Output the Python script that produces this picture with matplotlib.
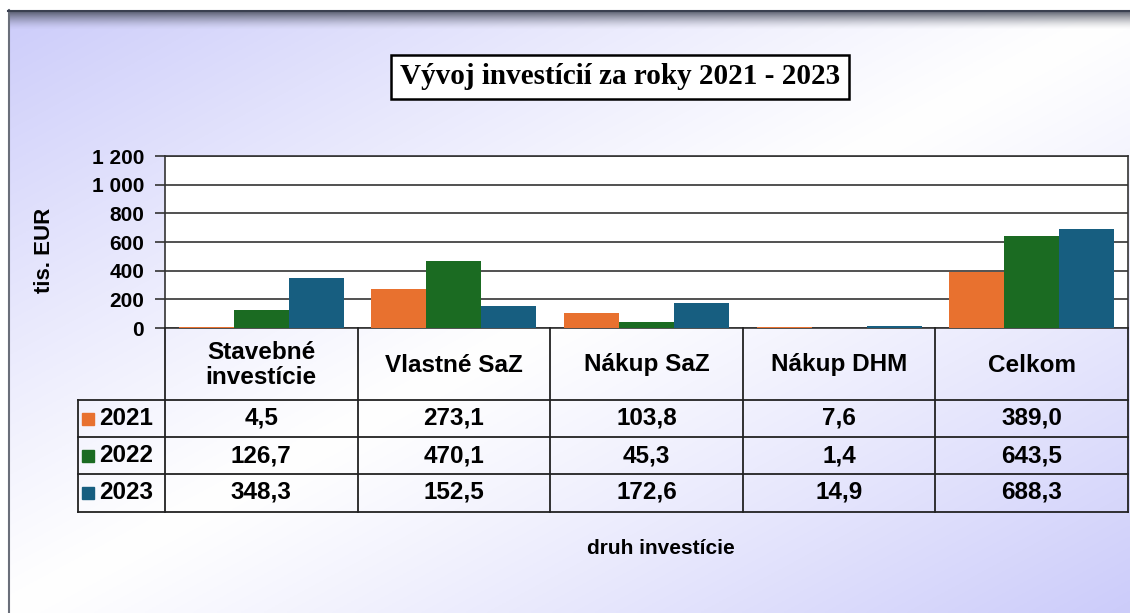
import matplotlib.pyplot as plt
import numpy as np

# data
kategorie = ['Stavebné\ninvestície', 'Vlastné SaZ', 'Nákup SaZ', 'Nákup DHM', 'Celkom']
roky = ['2021', '2022', '2023']
h2021 = [4.5, 273.1, 103.8, 7.6, 389.0]
h2022 = [126.7, 470.1, 45.3, 1.4, 643.5]
h2023 = [348.3, 152.5, 172.6, 14.9, 688.3]
hodnoty = [h2021, h2022, h2023]
farby = ['#E8712F', '#1B6B22', '#175E80']
yticks = [0, 200, 400, 600, 800, 1000, 1200]
ytick_labels = ['0', '200', '400', '600', '800', '1 000', '1 200']

W, H = 1130, 613
plt.rcParams['font.family'] = ['Liberation Sans', 'DejaVu Sans']

fig = plt.figure(figsize=(W / 100, H / 100), dpi=100)
fig.patch.set_facecolor('white')

# pozadie - diagonalny prechod
bg = fig.add_axes([0, 0, 1, 1])
bg.set_xlim(0, W)
bg.set_ylim(H, 0)
bg.set_axis_off()
xx, yy = np.meshgrid(np.linspace(0, 1, 500), np.linspace(0, 1, 300))
t = np.abs((xx + yy) / 2 - 0.5) * 2
t = t ** 1.1
lav = np.array([0.80, 0.80, 0.98])
wh = np.array([1.0, 1.0, 1.0])
img = wh[None, None, :] * (1 - t[..., None]) + lav[None, None, :] * t[..., None]
bg.imshow(img, extent=(8, W, H, 10), aspect='auto', zorder=0)
# tmavy pas hore
yb = np.linspace(0, 1, 40)
band = np.zeros((40, 10, 4))
band[..., 0] = 0.28
band[..., 1] = 0.30
band[..., 2] = 0.36
band[..., 3] = ((1 - yb) ** 1.5)[:, None] * 0.95
bg.imshow(band, extent=(8, W, 30, 10), aspect='auto', zorder=1)
bg.plot([8.5, 8.5], [10, H], color='#6a6f7a', lw=1.5, zorder=2)
bg.plot([8, W], [10.5, 10.5], color='#3a4050', lw=1.5, zorder=2)

# graf
ax = fig.add_axes([165 / W, 1 - 328 / H, 963 / W, 172 / H])
ax.set_facecolor('white')
x = np.arange(len(kategorie))
sirka = 0.2857
for i in range(3):
    ax.bar(x + (i - 1) * sirka, hodnoty[i], sirka, color=farby[i], zorder=3)
ax.set_xlim(-0.5, 4.5)
ax.set_ylim(0, 1200)
ax.set_yticks(yticks)
ax.set_yticklabels(ytick_labels, fontsize=15, fontweight='bold')
ax.set_xticks([])
ax.grid(axis='y', color='#333333', lw=1.2, zorder=1)
for s in ax.spines.values():
    s.set_color('#333333')
    s.set_linewidth(1.2)
ax.tick_params(axis='y', length=7, width=1.2, color='#333333', pad=8)

# tabulka pod grafom
tab = fig.add_axes([78 / W, 1 - 512 / H, 1050 / W, 184 / H])
xl = -0.5 - 87 / 192.6
tab.set_xlim(xl, 4.5)
tab.set_ylim(184, 0)
tab.set_axis_off()
lc = '#222222'
for yy_ in [72, 109, 146, 184]:
    tab.plot([xl, 4.5], [yy_, yy_], color=lc, lw=1.3, clip_on=False)
for i in range(6):
    tab.plot([i - 0.5, i - 0.5], [0, 184], color=lc, lw=1.3, clip_on=False)
tab.plot([xl, xl], [72, 184], color=lc, lw=1.3, clip_on=False)

for i, k in enumerate(kategorie):
    tab.text(i, 37, k, ha='center', va='center', fontsize=17.5, fontweight='bold',
             linespacing=1.1)
for r in range(3):
    yc = 72 + 18.5 + 37 * r
    tab.plot(xl + 0.052, yc, marker='s', ms=8, color=farby[r], clip_on=False)
    tab.text(xl + 0.11, yc, roky[r], ha='left', va='center', fontsize=17.5,
             fontweight='bold')
    for i in range(len(kategorie)):
        tab.text(i, yc, f'{hodnoty[r][i]:.1f}'.replace('.', ','), ha='center',
                 va='center', fontsize=17.5, fontweight='bold')

# popisy
fig.text(45 / W, 1 - 250 / H, 'tis. EUR', rotation=90, ha='center', va='center',
         fontsize=16, fontweight='bold')
fig.text(661 / W, 1 - 549 / H, 'druh investície', ha='center', va='center',
         fontsize=15, fontweight='bold')
fig.text(620 / W, 1 - 77 / H, 'Vývoj investícií za roky 2021 - 2023', ha='center',
         va='center', fontsize=21, fontweight='bold', family='Liberation Serif',
         bbox=dict(boxstyle='square,pad=0.3', facecolor='white', edgecolor='black',
                   lw=1.8))

fig.savefig('out.png', dpi=100)
